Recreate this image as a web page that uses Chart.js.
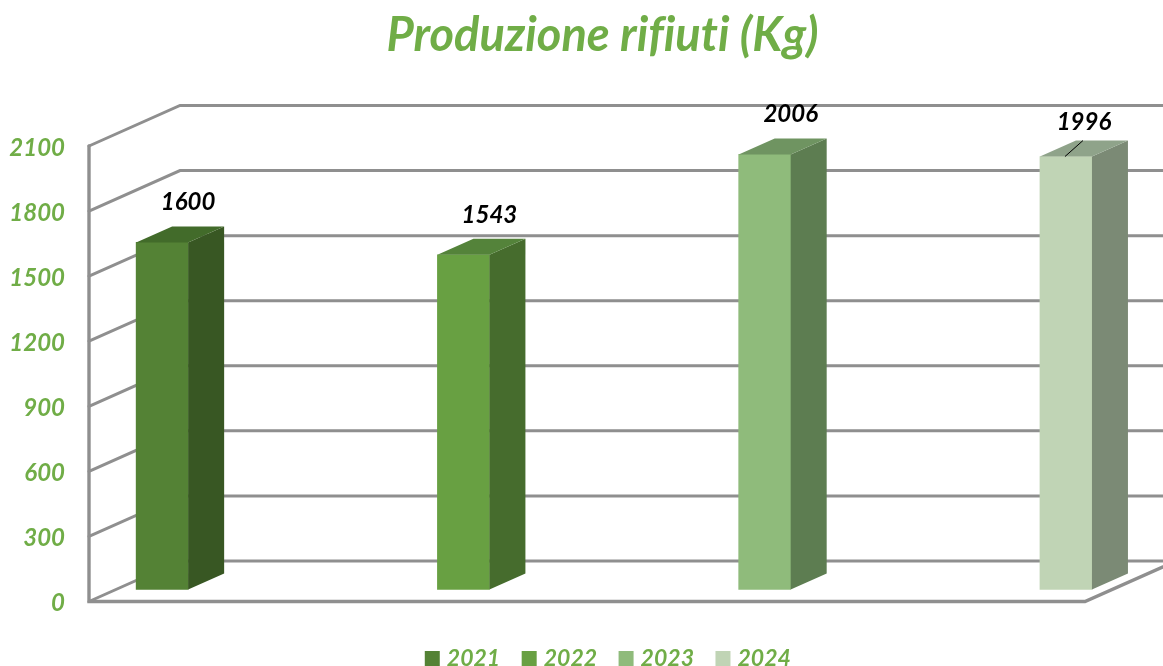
<!DOCTYPE html>
<html>
<head>
<meta charset="utf-8">
<style>html,body{margin:0;padding:0;background:#fff}canvas{display:block}</style>
<script src="https://cdn.jsdelivr.net/npm/chart.js@4"></script>
</head>
<body>
<canvas id="c" width="1163" height="666"></canvas>
<script>
const titleText = 'Produzione rifiuti (Kg)';
const years = [2021, 2022, 2023, 2024];
const values = [1600, 1543, 2006, 1996];
const frontColors = ['#548235', '#68A042', '#8FBB7B', '#C0D4B5'];
const sideColors = ['#385723', '#466C2D', '#5D7D51', '#7B8A75'];
const topColors = ['#426B2A', '#54833A', '#6F9461', '#8FA38A'];
const green = '#70AD47';
const FONT = 'Lato';
const DEPTH = {fx: 26.75, fy: -12, bx: 36, by: -16, wx: 91, wy: -40.5};
const TITLE_SHIFT = 21;
const LEGEND_SHIFT = 28.5;

const box3d = {
  id: 'box3d',
  afterLayout(chart) {
    chart.titleBlock.left += TITLE_SHIFT; chart.titleBlock.right += TITLE_SHIFT;
    chart.legend.left += LEGEND_SHIFT; chart.legend.right += LEGEND_SHIFT;
  },
  beforeDraw(chart) {
    chart.ctx.letterSpacing = '0.01px';
  },
  beforeDatasetsDraw(chart) {
    const {ctx, chartArea: a, scales: {y}} = chart;
    ctx.save();
    ctx.strokeStyle = '#8F8F8F';
    ctx.lineCap = 'round';
    ctx.lineWidth = 3;
    y.ticks.forEach(t => {
      const py = y.getPixelForValue(t.value);
      ctx.beginPath();
      ctx.moveTo(a.left, py);
      ctx.lineTo(a.left + DEPTH.wx, py + DEPTH.wy);
      ctx.lineTo(chart.width + 5, py + DEPTH.wy);
      ctx.stroke();
    });
    ctx.lineWidth = 3.4;
    ctx.beginPath();
    ctx.moveTo(a.left, a.top);
    ctx.lineTo(a.left, a.bottom);
    ctx.lineTo(a.right, a.bottom);
    ctx.lineTo(a.right + DEPTH.wx, a.bottom + DEPTH.wy);
    ctx.stroke();
    ctx.restore();
  },
  beforeDatasetDraw(chart) {
    chart.ctx.save();
    chart.ctx.translate(DEPTH.fx, DEPTH.fy);
  },
  afterDatasetDraw(chart, args) {
    const ctx = chart.ctx;
    const i = args.index;
    args.meta.data.forEach(el => {
      const l = el.x - el.width / 2, r = el.x + el.width / 2, t = el.y, b = el.base;
      ctx.fillStyle = sideColors[i];
      ctx.beginPath();
      ctx.moveTo(r, t); ctx.lineTo(r + DEPTH.bx, t + DEPTH.by);
      ctx.lineTo(r + DEPTH.bx, b + DEPTH.by); ctx.lineTo(r, b);
      ctx.closePath(); ctx.fill();
      ctx.fillStyle = topColors[i];
      ctx.beginPath();
      ctx.moveTo(l, t); ctx.lineTo(l + DEPTH.bx, t + DEPTH.by);
      ctx.lineTo(r + DEPTH.bx, t + DEPTH.by); ctx.lineTo(r, t);
      ctx.closePath(); ctx.fill();
    });
    ctx.restore();
  },
  afterDatasetsDraw(chart) {
    const ctx = chart.ctx;
    ctx.save();
    ctx.fillStyle = '#000';
    ctx.font = 'italic bold 24px ' + FONT;
    ctx.textAlign = 'center';
    ctx.textBaseline = 'middle';
    values.forEach((v, i) => {
      const el = chart.getDatasetMeta(i).data[0];
      const cx = el.x + DEPTH.fx, cy = el.y + DEPTH.fy;
      const leader = i === values.length - 1;
      ctx.fillText(String(v), cx + (leader ? 18 : 26), cy + (leader ? -34 : -40));
      if (leader) {
        ctx.strokeStyle = '#000';
        ctx.lineWidth = 1;
        ctx.beginPath();
        ctx.moveTo(cx - 1, cy);
        ctx.lineTo(cx + 17, cy - 16);
        ctx.stroke();
      }
    });
    ctx.restore();
  }
};

new Chart(document.getElementById('c'), {
  type: 'bar',
  plugins: [box3d],
  data: {
    datasets: years.map((yr, i) => ({
      label: String(yr),
      data: [{x: yr, y: values[i]}],
      backgroundColor: frontColors[i],
      barThickness: 52,
      grouped: false,
      clip: false
    }))
  },
  options: {
    responsive: false,
    animation: false,
    layout: {padding: {left: 0, right: 0, top: 0, bottom: -14}},
    plugins: {
      tooltip: {enabled: false},
      title: {
        display: true,
        text: titleText,
        color: green,
        font: {family: FONT, size: 47, weight: 'bold', style: 'italic'},
        padding: {top: 8, bottom: 81.6}
      },
      legend: {
        position: 'bottom',
        labels: {
          color: green,
          font: {family: FONT, size: 23, weight: 'bold', style: 'italic'},
          usePointStyle: true,
          pointStyle: 'rect',
          boxWidth: 6,
          boxHeight: 15,
          padding: 26
        }
      }
    },
    scales: {
      x: {
        type: 'linear',
        offset: false,
        min: 2020.846,
        max: 2024.152,
        ticks: {display: false},
        grid: {display: false},
        border: {display: false},
        afterFit(s) { s.height = 19.5; }
      },
      y: {
        min: 0,
        max: 2100,
        ticks: {
          stepSize: 300,
          padding: 16,
          labelOffset: 2,
          color: green,
          font: {family: FONT, size: 24, weight: 'bold', style: 'italic'},
          callback: v => String(v)
        },
        grid: {display: false},
        border: {display: false},
        afterFit(s) { s.width = 89; }
      },
      rightGap: {
        position: 'right',
        ticks: {display: false},
        grid: {display: false},
        border: {display: false},
        afterFit(s) { s.width = 78; }
      }
    }
  }
});
</script>
</body>
</html>
